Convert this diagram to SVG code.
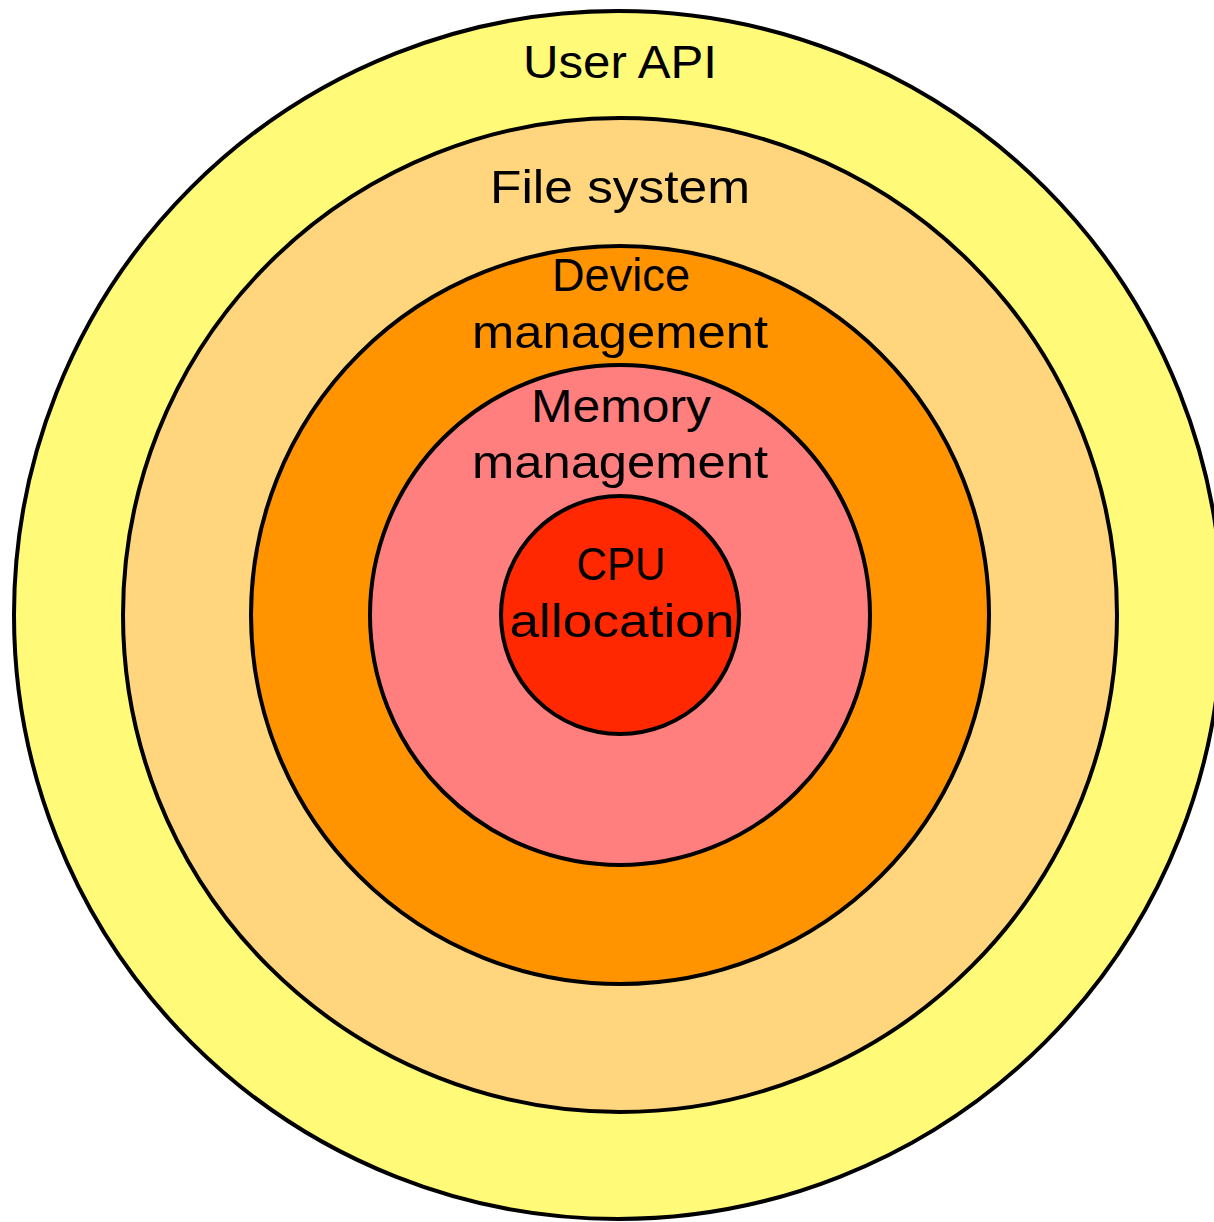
<svg xmlns="http://www.w3.org/2000/svg" width="1214" height="1222" viewBox="0 0 1214 1222">
  <style>
    .ring { stroke: #000; stroke-width: 4; }
    .label { font-family: "Liberation Sans", "DejaVu Sans", sans-serif; font-size: 46px; fill: #000; text-anchor: middle; }
  </style>
  <rect width="1214" height="1222" fill="#fff"/>
  <g id="user-api">
    <circle class="ring" cx="618" cy="615" r="604" fill="#FFFA78"/>
    <text class="label" x="620" y="78" textLength="194" lengthAdjust="spacingAndGlyphs">User API</text>
  </g>
  <g id="file-system">
    <circle class="ring" cx="620" cy="615" r="497" fill="#FFD57E"/>
    <text class="label" x="620" y="203" textLength="260" lengthAdjust="spacingAndGlyphs">File system</text>
  </g>
  <g id="device-management">
    <circle class="ring" cx="620" cy="615" r="369" fill="#FF9400"/>
    <text class="label" x="621" y="291" textLength="138" lengthAdjust="spacingAndGlyphs">Device</text>
    <text class="label" x="620" y="348" textLength="296" lengthAdjust="spacingAndGlyphs">management</text>
  </g>
  <g id="memory-management">
    <circle class="ring" cx="620" cy="615" r="250" fill="#FF7F7F"/>
    <text class="label" x="621" y="422" textLength="180" lengthAdjust="spacingAndGlyphs">Memory</text>
    <text class="label" x="620" y="478" textLength="296" lengthAdjust="spacingAndGlyphs">management</text>
  </g>
  <g id="cpu-allocation">
    <circle class="ring" cx="620" cy="615" r="119" fill="#FF2800"/>
    <text class="label" x="621" y="580" textLength="89" lengthAdjust="spacingAndGlyphs">CPU</text>
    <text class="label" x="622" y="637" textLength="225" lengthAdjust="spacingAndGlyphs">allocation</text>
  </g>
</svg>
